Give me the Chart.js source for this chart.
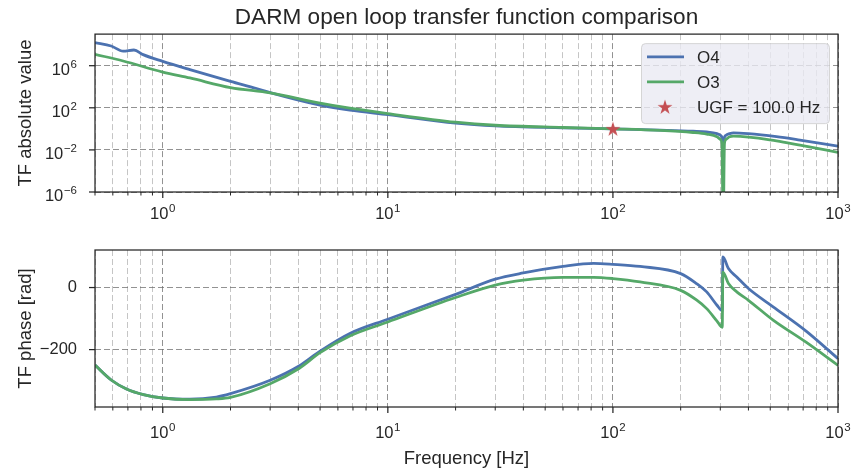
<!DOCTYPE html>
<html><head><meta charset="utf-8">
<script src="https://cdn.jsdelivr.net/npm/chart.js@4.4.1/dist/chart.umd.min.js"></script>
<style>
html,body{margin:0;padding:0;background:#fff;}
#wrap{position:relative;width:852px;height:473px;overflow:hidden;background:#fff;}
#c1{position:absolute;left:0;top:0;}
#c2{position:absolute;left:0;top:240px;}
</style></head><body>
<div id="wrap"><canvas id="c1" width="852" height="240"></canvas><canvas id="c2" width="852" height="233"></canvas></div>
<script>
// ---------------- data ----------------
const seriesNames = ['O4', 'O3'];
const ugfLabel = 'UGF = 100.0 Hz';
const ugfFreq = [100];
const ugfMag = [1];

const magFreqO4 = [0.5, 0.59, 0.667, 0.745, 0.818, 1, 1.32, 2, 2.61, 3, 5, 6.78, 10, 20, 30, 60, 100, 162, 227, 261, 290, 300, 305, 309, 313, 318, 330, 343, 400, 533, 678, 1000];
const magO4 = [1.55e8, 7.4e7, 2.45e7, 3.1e7, 1.12e7, 2.6e6, 4.3e5, 3.3e4, 6.8e3, 2.8e3, 180, 59, 22, 3.5, 1.9, 1.26, 1.0, 0.76, 0.60, 0.51, 0.35, 0.25, 0.16, 0.05, 0.16, 0.25, 0.35, 0.42, 0.35, 0.18, 0.085, 0.023];

const magFreqO3 = [0.5, 0.667, 1, 1.32, 2, 3, 5, 6.78, 10, 20, 30, 60, 100, 162, 227, 261, 290, 300, 305, 309, 313, 318, 330, 343, 533, 678, 1000];
const magO3 = [1.2e7, 2.8e6, 2.5e5, 6.8e4, 8.3e3, 2.6e3, 280, 91, 28, 4.3, 2.2, 1.35, 1.0, 0.71, 0.45, 0.32, 0.18, 0.1, 0.04, 1e-9, 0.04, 0.1, 0.18, 0.2, 0.072, 0.028, 0.0058];

const phaseFreq = [0.5, 0.59, 0.69, 0.82, 1, 1.32, 1.73, 2, 3, 4.03, 5, 6.78, 10, 20, 30, 40, 60, 82, 100, 132, 200, 235, 261, 290, 306, 308, 326, 355, 400, 515, 724, 1000];
const phaseO4 = [-250, -298, -327, -345, -356, -360, -353, -342, -299, -253, -205, -148, -102, -22, 27, 47, 68, 78, 75, 68, 45, 13, -14, -57, -75, 99, 61, 34, -3, -62, -141, -229];
const phaseO3 = [-250, -298, -327, -345, -356, -361, -359, -354, -310, -261, -210, -156, -111, -32, 8, 24, 33, 33, 29, 18, -9, -40, -68, -108, -128, 50, 13, -14, -41, -105, -177, -251];

// ticks (power-of-ten labels are drawn as base "10" + exponent)
const xMajorTicks = [1, 10, 100, 1000];
const xTickExps = ['0', '1', '2', '3'];
const magTicks = [1e-6, 1e-2, 1e2, 1e6];
const magTickExps = ['\u22126', '\u22122', '2', '6'];
const phaseTicks = [-200, 0];
const phaseTickLabels = ['\u2212200', '0'];

// ---------------- styling ----------------
const FONT = '"Liberation Sans", Arial, Helvetica, sans-serif';
Chart.defaults.font.family = FONT;
Chart.defaults.color = '#262626';
const BLUE = '#4c72b0', GREEN = '#55a868', RED = '#c44e52', INK = '#262626';
const LW = 2.8;

const xTickValues = [];
[0.1, 1, 10, 100].forEach(d => { for (let k = 1; k <= 9; k++) { const v = +(k * d).toPrecision(6); if (v >= 0.5) xTickValues.push(v); } });
xTickValues.push(1000);

const isMajor = v => { const l = Math.log10(v); return Math.abs(l - Math.round(l)) < 1e-9; };

function starCanvas(r, color) {
  const s = Math.ceil(r * 2 + 2);
  const c = document.createElement('canvas'); c.width = s; c.height = s;
  const g = c.getContext('2d');
  g.fillStyle = color; g.beginPath();
  for (let i = 0; i < 10; i++) {
    const rr = i % 2 ? r * 0.382 : r;
    const a = -Math.PI / 2 + i * Math.PI / 5;
    g.lineTo(s / 2 + rr * Math.cos(a), s / 2 + 0.6 + rr * Math.sin(a));
  }
  g.closePath(); g.fill();
  return c;
}
const STAR = starCanvas(7.8, RED);

function drawPow(ctx, exp, x, baseY, align) {
  ctx.font = '16.5px ' + FONT; const w1 = ctx.measureText('10').width;
  ctx.font = '11.5px ' + FONT; const w2 = ctx.measureText(exp).width;
  const total = w1 + 0.6 + w2;
  const left = align === 'center' ? x - total / 2 : x - total;
  ctx.textBaseline = 'alphabetic'; ctx.textAlign = 'left'; ctx.fillStyle = INK;
  ctx.font = '16.5px ' + FONT; ctx.fillText('10', left, baseY);
  ctx.font = '11.5px ' + FONT; ctx.fillText(exp, left + w1 + 0.6, baseY - 6.7);
}

function xScale(height, titleText) {
  return {
    type: 'logarithmic', min: 0.5, max: 1000, bounds: 'data',
    afterBuildTicks: ax => { ax.ticks = xTickValues.map(v => ({ value: v })); },
    ticks: { display: false, autoSkip: false, maxRotation: 0 },
    grid: {
      drawTicks: false, lineWidth: 1,
      color: c => (c.tick && isMajor(c.tick.value)) ? 'rgba(110,110,110,0.75)' : 'rgba(150,150,150,0.55)'
    },
    border: { display: false, dash: [6, 3] },
    title: titleText ? { display: true, text: titleText, color: INK, font: { size: 18.5 }, padding: { top: 0, bottom: 3 } } : { display: false },
    afterFit: s => { s.height = height; s.paddingLeft = 0; s.paddingRight = 0; }
  };
}

function yCommon(titleText) {
  return {
    grid: { drawTicks: false, lineWidth: 1, color: 'rgba(110,110,110,0.75)' },
    border: { display: false, dash: [6, 3] },
    title: { display: true, text: titleText, color: INK, font: { size: 18.5 }, padding: { top: 15, bottom: 0 } },
    afterFit: s => { s.width = 95; s.paddingTop = 0; s.paddingBottom = 0; }
  };
}

const decorPlugin = {
  id: 'decor',
  afterDatasetsDraw(chart, args, opts) {
    const { ctx, chartArea: a, scales } = chart;
    ctx.save();
    ctx.strokeStyle = INK;
    const xs = scales.x;
    xs.ticks.forEach(t => {
      const px = xs.getPixelForValue(t.value);
      const maj = isMajor(t.value);
      ctx.lineWidth = maj ? 1.25 : 1;
      ctx.beginPath(); ctx.moveTo(px, a.bottom); ctx.lineTo(px, a.bottom + (maj ? 6 : 3.5)); ctx.stroke();
    });
    const ys = scales.y;
    ys.ticks.forEach(t => {
      const py = ys.getPixelForValue(t.value);
      ctx.lineWidth = 1.25;
      ctx.beginPath(); ctx.moveTo(a.left - 6, py); ctx.lineTo(a.left, py); ctx.stroke();
    });
    ctx.lineWidth = 1.25;
    ctx.strokeRect(a.left, a.top, a.right - a.left, a.bottom - a.top);
    // power-of-ten tick labels
    xMajorTicks.forEach((v, i) => drawPow(ctx, xTickExps[i], xs.getPixelForValue(v), a.bottom + opts.xLabelDy, 'center'));
    if (opts.logY) {
      magTicks.forEach((v, i) => drawPow(ctx, magTickExps[i], a.left - 18, ys.getPixelForValue(v) + 9, 'right'));
    }
    ctx.restore();
  },
  afterDraw(chart, args, opts) {
    if (!opts.legend) return;
    const { ctx, chartArea: a } = chart;
    const w = 188, h = 80, x0 = a.right - 9 - w, y0 = a.top + 9;
    ctx.save();
    ctx.beginPath();
    if (ctx.roundRect) ctx.roundRect(x0 + 0.5, y0 + 0.5, w, h, 4); else ctx.rect(x0 + 0.5, y0 + 0.5, w, h);
    ctx.fillStyle = 'rgba(234,234,242,0.8)'; ctx.fill();
    ctx.strokeStyle = 'rgba(204,204,204,0.8)'; ctx.lineWidth = 1; ctx.stroke();
    chart.data.datasets.forEach((ds, i) => {
      const y = y0 + 13.7 + i * 25;
      if (ds.showLine === false) {
        ctx.drawImage(STAR, x0 + 24 - STAR.width / 2, y - STAR.height / 2);
      } else {
        ctx.strokeStyle = ds.borderColor; ctx.lineWidth = LW;
        ctx.beginPath(); ctx.moveTo(x0 + 6, y); ctx.lineTo(x0 + 43, y); ctx.stroke();
      }
      ctx.fillStyle = INK; ctx.font = '17px ' + FONT; ctx.textBaseline = 'middle'; ctx.textAlign = 'left';
      ctx.fillText(ds.label, x0 + 56, y + 1);
    });
    ctx.restore();
  }
};

const pts = (xs, ys) => xs.map((x, i) => ({ x, y: ys[i] }));
const lineDs = (label, data, color, order) => ({
  label, data, borderColor: color, backgroundColor: color, borderWidth: LW,
  pointRadius: 0, pointHoverRadius: 0, cubicInterpolationMode: 'monotone', fill: false, order
});

new Chart(document.getElementById('c1'), {
  type: 'line',
  data: {
    datasets: [
      lineDs(seriesNames[0], pts(magFreqO4, magO4), BLUE, 2),
      lineDs(seriesNames[1], pts(magFreqO3, magO3), GREEN, 1),
      { label: ugfLabel, data: pts(ugfFreq, ugfMag), showLine: false, pointStyle: STAR, pointRadius: 8, backgroundColor: RED, borderColor: RED, order: 0 }
    ]
  },
  options: {
    responsive: false, animation: false, events: [],
    layout: { padding: { left: 0, right: 14, top: 0, bottom: 0 } },
    plugins: {
      legend: { display: false }, tooltip: { enabled: false },
      title: { display: true, fullSize: false, text: 'DARM open loop transfer function comparison', color: INK, font: { size: 22.6, weight: 'normal' }, padding: { top: 4, bottom: 3 } },
      decor: { legend: true, logY: true, xLabelDy: 27 }
    },
    scales: {
      x: xScale(48, null),
      y: Object.assign(yCommon('TF absolute value'), {
        type: 'logarithmic', min: 1e-6, max: 1e9, bounds: 'data',
        afterBuildTicks: ax => { ax.ticks = magTicks.map(v => ({ value: v })); },
        ticks: { display: false }
      })
    }
  },
  plugins: [decorPlugin]
});

new Chart(document.getElementById('c2'), {
  type: 'line',
  data: {
    datasets: [
      lineDs(seriesNames[0], pts(phaseFreq, phaseO4), BLUE, 2),
      lineDs(seriesNames[1], pts(phaseFreq, phaseO3), GREEN, 1)
    ]
  },
  options: {
    responsive: false, animation: false, events: [],
    layout: { padding: { left: 0, right: 14, top: 10, bottom: 0 } },
    plugins: { legend: { display: false }, tooltip: { enabled: false }, decor: { legend: false, logY: false, xLabelDy: 31 } },
    scales: {
      x: xScale(66, 'Frequency [Hz]'),
      y: Object.assign(yCommon('TF phase [rad]'), {
        type: 'linear', min: -385, max: 121, bounds: 'data',
        afterBuildTicks: ax => { ax.ticks = phaseTicks.map(v => ({ value: v })); },
        ticks: { padding: 18, color: INK, font: { size: 16.5 }, callback: v => phaseTickLabels[phaseTicks.indexOf(v)] }
      })
    }
  },
  plugins: [decorPlugin]
});
</script>
</body></html>
